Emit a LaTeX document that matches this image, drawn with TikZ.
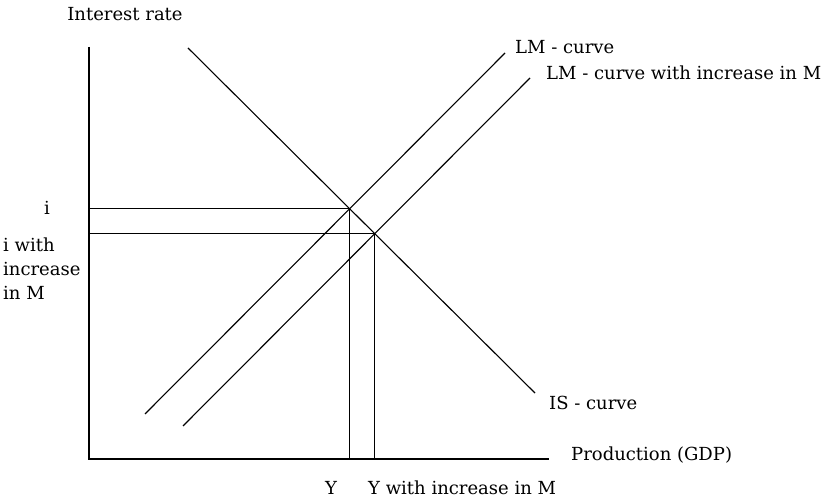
\documentclass[tikz,border=0pt]{standalone}
\usepackage{fontspec}
\setmainfont{DejaVu Serif}
\begin{document}
\begin{tikzpicture}[x=1pt,y=-1pt,
  axisline/.style={line width=1.5pt},
  curveline/.style={line width=1.1pt},
  guide/.style={line width=1.3pt},
  lbl/.style={font=\fontsize{18}{24}\selectfont,inner sep=0pt}]
  \useasboundingbox (0,0) rectangle (831,502);

  % axes
  \coordinate (origin) at (89,459);
  \coordinate (ytop) at (89,47);
  \coordinate (xend) at (549,459);
  \draw[axisline] (ytop) -- (origin) -- (xend);
  \node[lbl] (ylab) at (125,14) {Interest rate};
  \node[lbl,anchor=west] (xlab) at (571,455) {Production (GDP)};

  % IS and the two LM curves
  \coordinate (is1) at (188,48);  \coordinate (is2) at (535,393);
  \coordinate (lm1) at (145,414); \coordinate (lm2) at (505,53);
  \coordinate (lmm1) at (183,426); \coordinate (lmm2) at (530,78);
  \foreach \a/\b in {is1/is2,lm1/lm2,lmm1/lmm2}
    \draw[curveline] (\a) -- (\b);
  \node[lbl,anchor=west] (islab) at (549,403) {IS - curve};
  \node[lbl,anchor=west] (lmlab) at (515,47) {LM - curve};
  \node[lbl,anchor=west] (lmmlab) at (546,73) {LM - curve with increase in M};

  % equilibria
  \coordinate (E1) at (intersection of is1--is2 and lm1--lm2);
  \coordinate (E2) at (intersection of is1--is2 and lmm1--lmm2);
  \foreach \e in {E1,E2}
    \draw[guide] (\e -| origin) -- (\e) -- (\e |- origin);

  \node[lbl] (ilab) at (47,208) {i};
  \node[lbl,anchor=west,align=left] (imlab) at (3,269) {i with\\increase\\in M};
  \node[lbl] (ylabel) at (331,488) {Y};
  \node[lbl,anchor=west] (ymlab) at (368,488) {Y with increase in M};
\end{tikzpicture}
\end{document}
